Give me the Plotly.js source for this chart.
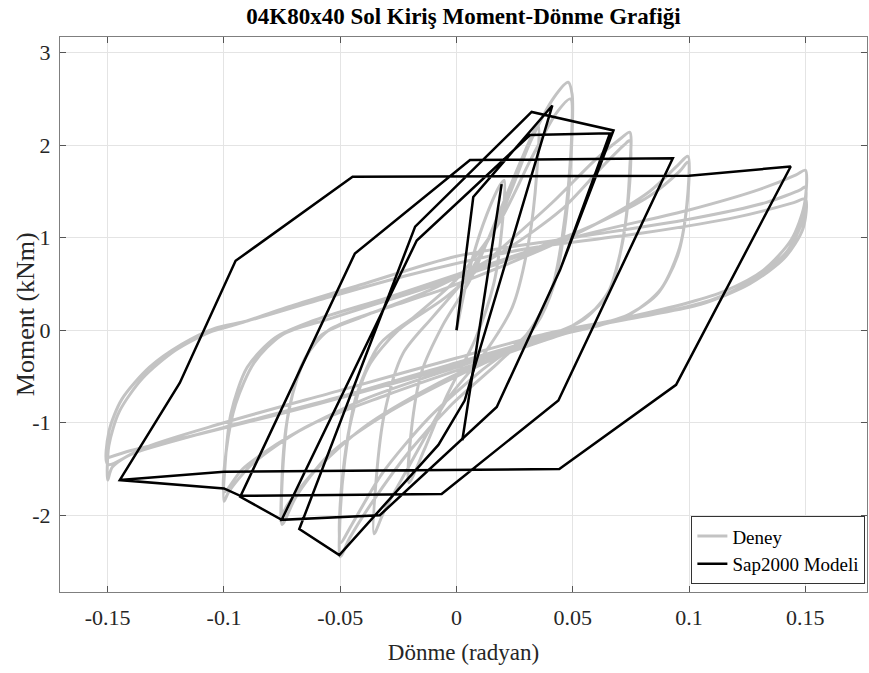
<!DOCTYPE html>
<html>
<head>
<meta charset="utf-8">
<script src="https://cdn.plot.ly/plotly-3.0.1.min.js"></script>
<style>html,body{margin:0;padding:0;background:#fff;}#chart{width:869px;height:673px;}</style>
</head>
<body>
<div id="chart"></div>
<script>
// Experimental (Deney) hysteresis path
const deneyX = [
 0.000,0.006,0.013,0.019,0.0205,0.0195,0.016,0.008,-0.004,-0.014,-0.0205,-0.0195,-0.015,-0.006,0.006,
 0.018,0.028,0.035,0.0345,0.031,0.024,0.012,-0.004,-0.020,-0.031,-0.0355,-0.0345,-0.031,-0.023,-0.010,0.005,
 0.020,0.032,0.042,0.048,0.0497,0.0495,0.047,0.042,0.034,0.018,-0.002,-0.020,-0.036,-0.046,-0.050,-0.0502,-0.048,-0.043,-0.033,-0.018,0.000,
 0.018,0.032,0.043,0.049,0.0495,0.047,0.041,0.030,0.010,-0.012,-0.032,-0.045,-0.050,-0.0498,-0.046,-0.038,-0.025,-0.005,
 0.020,0.042,0.060,0.071,0.0745,0.0745,0.072,0.066,0.055,0.030,0.000,-0.030,-0.055,-0.069,-0.075,-0.0752,-0.073,-0.067,-0.058,-0.040,-0.010,
 0.020,0.045,0.062,0.072,0.0745,0.0745,0.071,0.064,0.050,0.020,-0.010,-0.040,-0.062,-0.073,-0.075,-0.0748,-0.072,-0.065,-0.055,-0.035,-0.005,
 0.030,0.060,0.083,0.095,0.0995,0.0995,0.096,0.088,0.075,0.045,0.010,-0.030,-0.065,-0.088,-0.098,-0.100,-0.0995,-0.097,-0.090,-0.078,-0.062,-0.030,0.000,
 0.030,0.060,0.083,0.096,0.0995,0.099,0.095,0.086,0.070,0.040,0.000,-0.040,-0.072,-0.092,-0.100,-0.099,-0.095,-0.087,-0.075,-0.055,-0.020,0.010,
 0.050,0.100,0.130,0.146,0.150,0.1495,0.144,0.132,0.115,0.100,0.070,0.040,0.000,-0.050,-0.100,-0.135,-0.148,-0.150,-0.1495,-0.145,-0.135,-0.121,-0.106,-0.095,-0.070,-0.040,0.000,
 0.050,0.100,0.133,0.148,0.150,0.149,0.142,0.128,0.110,0.090,0.050,0.000,-0.050,-0.100,-0.138,-0.150,-0.1495,-0.144,-0.132,-0.118,-0.104,-0.090,-0.060,-0.020,0.030,
 0.080,0.120,0.145,0.150,0.149,0.141,0.126,0.105,0.080,0.040,0.000,-0.060,-0.110,-0.140,-0.150
];
const deneyY = [
 0.00,0.70,1.25,1.58,1.62,1.10,0.50,-0.10,-0.70,-1.30,-1.65,-1.10,-0.45,0.05,0.55,
 1.25,1.85,2.22,1.70,0.95,0.25,-0.25,-0.75,-1.45,-1.95,-2.20,-1.60,-0.90,-0.25,0.15,0.60,
 1.30,2.05,2.52,2.68,2.55,2.00,1.20,0.50,0.05,-0.35,-0.80,-1.30,-1.85,-2.25,-2.45,-2.10,-1.40,-0.70,-0.15,0.15,0.55,
 1.15,1.85,2.35,2.50,2.10,1.30,0.45,-0.05,-0.45,-0.95,-1.55,-2.10,-2.30,-1.80,-1.05,-0.40,0.00,0.35,
 0.90,1.40,1.85,2.08,2.14,1.75,1.05,0.45,0.12,-0.15,-0.50,-0.90,-1.35,-1.80,-2.10,-1.70,-1.00,-0.40,-0.05,0.15,0.45,
 0.85,1.30,1.75,2.00,2.05,1.60,0.90,0.35,0.05,-0.25,-0.60,-1.05,-1.55,-1.90,-2.00,-1.55,-0.85,-0.30,0.00,0.20,0.45,
 0.80,1.15,1.50,1.78,1.88,1.45,0.90,0.45,0.18,-0.05,-0.35,-0.70,-1.05,-1.45,-1.75,-1.85,-1.45,-0.90,-0.40,-0.08,0.10,0.35,0.60,
 0.85,1.15,1.45,1.72,1.82,1.35,0.80,0.38,0.12,-0.08,-0.40,-0.75,-1.15,-1.50,-1.75,-1.30,-0.80,-0.35,-0.05,0.12,0.40,0.65,
 1.00,1.30,1.52,1.68,1.73,1.35,0.98,0.65,0.42,0.30,0.12,-0.03,-0.30,-0.65,-1.00,-1.28,-1.48,-1.62,-1.25,-0.88,-0.52,-0.22,-0.02,0.06,0.27,0.50,0.80,
 1.00,1.20,1.38,1.52,1.55,1.20,0.85,0.55,0.33,0.20,0.00,-0.35,-0.72,-1.05,-1.32,-1.45,-1.10,-0.75,-0.40,-0.15,0.02,0.10,0.32,0.60,0.88,
 1.05,1.22,1.38,1.42,1.10,0.78,0.50,0.28,0.15,-0.05,-0.38,-0.80,-1.12,-1.30,-1.38
];
// SAP2000 model path
const sapX = [
 0.000,0.0072,0.0412,0.0201,0.0035,-0.0078,-0.0504,-0.0676,-0.0178,0.0323,0.0675,0.0445,0.0173,-0.033,-0.0752,
 -0.0171,0.0316,0.066,0.0445,0.0173,-0.033,-0.0752,-0.093,-0.0437,0.0058,0.093,0.0438,-0.0064,-0.093,-0.100,-0.1448,
 -0.119,-0.095,-0.0447,0.100,0.1437,0.0944,0.0442,-0.100,-0.1448,null,0.0025,0.0194
];
const sapY = [
 0.00,1.44,2.43,0.65,-0.76,-1.24,-2.43,-2.15,1.12,2.36,2.16,0.65,-0.83,-2.00,-2.05,
 0.97,2.11,2.13,0.65,-0.83,-2.00,-2.05,-1.80,0.83,1.84,1.86,-0.76,-1.77,-1.79,-1.71,-1.62,
 -0.57,0.75,1.66,1.67,1.77,-0.59,-1.50,-1.53,-1.62,null,-1.19,1.58
];
const xTicks = [-0.15,-0.1,-0.05,0,0.05,0.1,0.15];
const xTickText = ['-0.15','-0.1','-0.05','0','0.05','0.1','0.15'];
const yTicks = [-2,-1,0,1,2,3];
const yTickText = ['-2','-1','0','1','2','3'];

const serif = 'Liberation Serif, Times New Roman, serif';
const traces = [
 {x: deneyX, y: deneyY, type: 'scatter', mode: 'lines', name: 'Deney',
  line: {color: '#c3c3c3', width: 3, shape: 'spline', smoothing: 0.8}},
 {x: sapX, y: sapY, type: 'scatter', mode: 'lines', name: 'Sap2000 Modeli',
  line: {color: '#000000', width: 2.5}, connectgaps: false}
];
const axisCommon = {
 showline: true, linecolor: '#7f7f7f', linewidth: 1, mirror: 'ticks',
 ticks: 'inside', ticklen: 6, tickcolor: '#555', tickwidth: 1,
 showgrid: true, gridcolor: '#e4e4e4', gridwidth: 1, zeroline: false
};
const layout = {
 width: 869, height: 673,
 margin: {l: 60, r: 2, t: 37, b: 81},
 paper_bgcolor: '#fff', plot_bgcolor: '#fff',
 title: {text: '<b>04K80x40 Sol Kiriş Moment-Dönme Grafiği</b>', x: 0.5, xref: 'paper',
  y: 0.976, yref: 'container', yanchor: 'middle',
  font: {family: serif, size: 23, color: '#000'}},
 xaxis: Object.assign({}, axisCommon, {range: [-0.1705, 0.1765], tickvals: xTicks, ticktext: xTickText,
  tickfont: {family: serif, size: 22, color: '#262626'}, ticklabelstandoff: 6,
  title: {text: 'Dönme (radyan)', font: {family: serif, size: 23, color: '#262626'}, standoff: 14}}),
 yaxis: Object.assign({}, axisCommon, {range: [-2.83, 3.17], tickvals: yTicks, ticktext: yTickText,
  tickfont: {family: serif, size: 22, color: '#262626'}, ticklabelstandoff: 4}),
 annotations: [{text: 'Moment (kNm)', xref: 'paper', yref: 'paper', x: -0.0425, y: 0.5,
  xanchor: 'center', yanchor: 'middle', textangle: -90, showarrow: false,
  font: {family: serif, size: 26, color: '#262626'}}],
 showlegend: true,
 legend: {x: 0.998, y: 0.014, xanchor: 'right', yanchor: 'bottom', bgcolor: '#fff',
  bordercolor: '#333', borderwidth: 1, font: {family: serif, size: 19, color: '#000'},
  itemwidth: 30, tracegroupgap: 0}
};
Plotly.newPlot('chart', traces, layout, {displayModeBar: false, staticPlot: true});
</script>
</body>
</html>
